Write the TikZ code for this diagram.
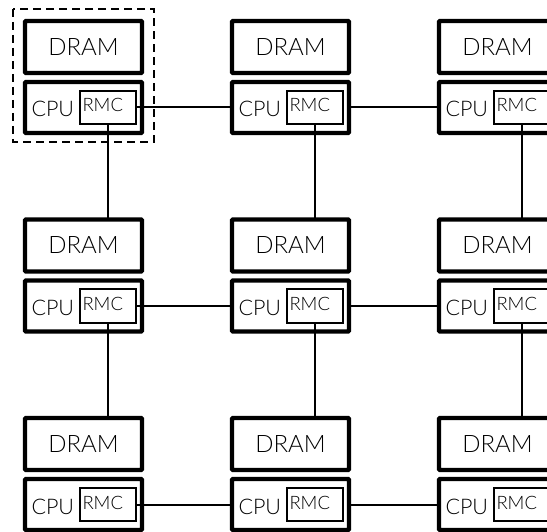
\documentclass[tikz,border=0pt]{standalone}
\usepackage{fontspec}
\setmainfont{Lato Light}
\begin{document}
\begin{tikzpicture}[x=1pt,y=-1pt,
  thickbox/.style={draw=black, line width=4.3pt, rounded corners=1pt, inner sep=0pt, outer sep=0pt},
  rmcbox/.style={draw=black, line width=1.6pt, inner sep=0pt, outer sep=0pt, minimum width=56.5pt, minimum height=33.5pt},
  lbl/.style={inner sep=0pt, outer sep=0pt},
  link/.style={draw=black, line width=2pt}]
\useasboundingbox (0,0) rectangle (547,532);
\foreach \i in {0,1,2}{
  \foreach \j in {0,1,2}{
    \pgfmathsetmacro{\ox}{23+207*\i}
    \pgfmathsetmacro{\oy}{19+198.5*\j}
    \node[thickbox, minimum width=117pt, minimum height=52pt] (dram\i\j) at (\ox+60.5,\oy+28) {};
    \node[lbl, font=\fontsize{24}{24}\selectfont] (dramt\i\j) at (dram\i\j.center) {DRAM};
    \node[thickbox, minimum width=117pt, minimum height=51pt] (cpu\i\j) at (\ox+60.5,\oy+88.5) {};
    \node[rmcbox] (rmc\i\j) at (\ox+85,\oy+88.5) {};
    \node[lbl, anchor=base west, font=\fontsize{21.5}{21.5}\selectfont] (cput\i\j) at (\ox+8.5,\oy+98) {CPU};
    \node[lbl, anchor=base west, font=\fontsize{18.5}{18.5}\selectfont] (rmct\i\j) at (\ox+59.5,\oy+93) {RMC};
  }
}
\foreach \j in {0,1,2}{
  \draw[link] (rmc0\j.east) -- (cpu1\j.west);
  \draw[link] (cpu1\j.east) -- (cpu2\j.west);
}
\foreach \i in {0,1,2}{
  \draw[link] (rmc\i0.south) -- (rmc\i0.south |- dram\i1.north);
  \draw[link] (rmc\i1.south) -- (rmc\i1.south |- dram\i2.north);
}
\draw[line width=2pt, dash pattern=on 8pt off 5pt] (13,9) rectangle (154,142);
\end{tikzpicture}
\end{document}
